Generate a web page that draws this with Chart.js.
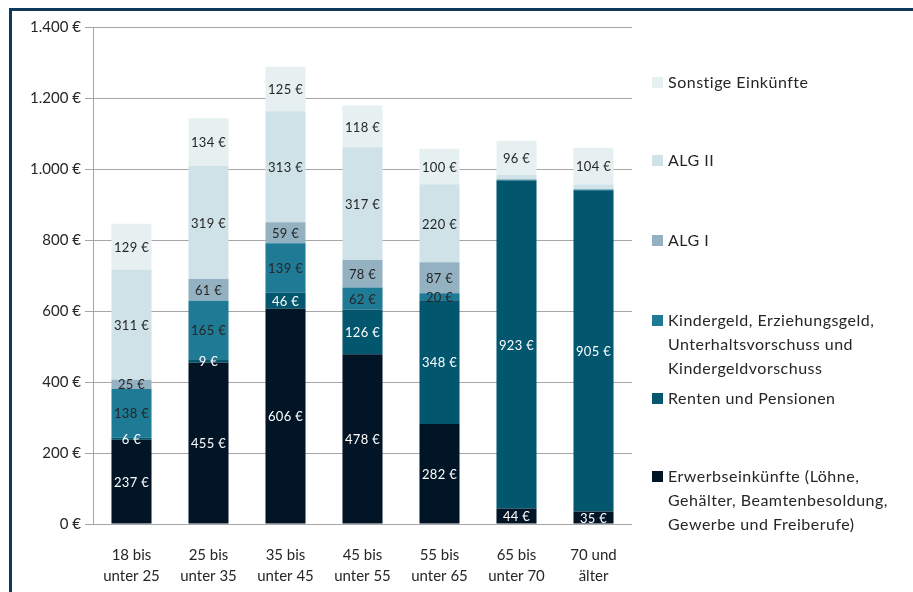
<!DOCTYPE html>
<html>
<head>
<meta charset="utf-8">
<script src="https://cdn.jsdelivr.net/npm/chart.js@4"></script>
<style>
  html, body { margin: 0; padding: 0; background: #fff; }
  #wrap { position: relative; width: 913px; height: 592px; overflow: hidden; }
  #frame { position: absolute; left: 9px; top: 8px; right: -10px; bottom: -10px;
           border-left: 3px solid #0d3a5c; border-top: 3px solid #0d3a5c; }
  canvas { position: absolute; left: 0; top: 0; }
  .leg { position: absolute; left: 652px; font-family: Lato, sans-serif; font-size: 16px;
         letter-spacing: 0.5px; color: #262626; line-height: 24px; }
  .leg i { position: absolute; left: 0; top: 7px; width: 11px; height: 11px; }
  .leg span { display: block; margin-left: 16px; white-space: nowrap; }
</style>
</head>
<body>
<div id="wrap">
  <div id="frame"></div>
  <canvas id="myChart" width="913" height="592"></canvas>
  <div id="legend"></div>
</div>
<script>
const ctx = document.getElementById('myChart');

const categories = [
    ['18 bis', 'unter 25'],
    ['25 bis', 'unter 35'],
    ['35 bis', 'unter 45'],
    ['45 bis', 'unter 55'],
    ['55 bis', 'unter 65'],
    ['65 bis', 'unter 70'],
    ['70 und', 'älter'],
];

// stacked from bottom to top
const erwerb      = [237, 455, 606, 478, 282, 44, 35];
const renten      = [6, 9, 46, 126, 348, 923, 905];
const kindergeld  = [138, 165, 139, 62, 20, 3, 2];
const algI        = [25, 61, 59, 78, 87, 1, 0];
const algII       = [311, 319, 313, 317, 220, 12, 14];
const sonstige    = [129, 134, 125, 118, 100, 96, 104];

const yTicks = [0, 200, 400, 600, 800, 1000, 1200, 1400];

const seriesNames = [
    ['Erwerbseinkünfte (Löhne,', 'Gehälter, Beamtenbesoldung,', 'Gewerbe und Freiberufe)'],
    ['Renten und Pensionen'],
    ['Kindergeld, Erziehungsgeld,', 'Unterhaltsvorschuss und', 'Kindergeldvorschuss'],
    ['ALG I'],
    ['ALG II'],
    ['Sonstige Einkünfte'],
];
const seriesColors = ['#021526', '#02566e', '#1f7a96', '#93b1c1', '#cfe2e7', '#e6f0f1'];
const labelColors  = ['#ffffff', '#ffffff', '#262626', '#262626', '#262626', '#262626'];
const legendTops   = [464, 386, 308, 228, 148, 70];

function euro(v) {
    return String(v).replace(/\B(?=(\d{3})+(?!\d))/g, '.') + ' €';
}

const allSeries = [erwerb, renten, kindergeld, algI, algII, sonstige];

const data = {
    labels: categories,
    datasets: allSeries.map((vals, i) => ({
        label: seriesNames[i].join(' '),
        data: vals,
        backgroundColor: seriesColors[i],
        borderWidth: 0,
    }))
};

// segment labels inside the bars
const barLabels = {
    id: 'barLabels',
    afterDatasetsDraw(chart) {
        const c = chart.ctx;
        c.save();
        c.font = '13px Lato, sans-serif';
        c.letterSpacing = '0.3px';
        c.textAlign = 'center';
        c.textBaseline = 'middle';
        chart.data.datasets.forEach((ds, di) => {
            const meta = chart.getDatasetMeta(di);
            meta.data.forEach((bar, i) => {
                const v = ds.data[i];
                // the tiny segments of the two oldest groups are not labelled
                if (i >= 5 && di >= 2 && di <= 4) return;
                const y = (bar.y + bar.base) / 2;
                c.fillStyle = labelColors[di];
                c.fillText(euro(v), bar.x, y + 1);
            });
        });
        c.restore();
    }
};

new Chart(ctx, {
    type: 'bar',
    data: data,
    plugins: [barLabels],
    options: {
        responsive: false,
        animation: false,
        layout: {
            padding: { top: 27, right: 281, bottom: 0, left: 0 }
        },
        plugins: {
            legend: { display: false },
            tooltip: { enabled: false },
        },
        datasets: {
            bar: { categoryPercentage: 1, barPercentage: 0.52 }
        },
        scales: {
            x: {
                stacked: true,
                grid: { display: false },
                border: { display: false },
                ticks: {
                    color: '#262626',
                    padding: 12,
                    font: { family: 'Lato', size: 15, lineHeight: 1.45 },
                    maxRotation: 0,
                },
                afterFit(scale) { scale.height = 68; },
            },
            y: {
                stacked: true,
                min: 0,
                max: 1400,
                afterBuildTicks(scale) {
                    scale.ticks = yTicks.map(v => ({ value: v }));
                },
                grid: {
                    color: '#a6a6a6',
                    lineWidth: 1,
                    tickLength: 8,
                },
                border: { display: true, color: '#a6a6a6' },
                ticks: {
                    color: '#262626',
                    padding: 4,
                    font: { family: 'Lato', size: 15 },
                    callback: function (value) {
                        return euro(value);
                    },
                },
                afterFit(scale) { scale.width = 93; },
            }
        }
    }
});

// legend on the right, top entry is the top of the stack
const legend = document.getElementById('legend');
seriesNames.forEach((lines, i) => {
    const d = document.createElement('div');
    d.className = 'leg';
    d.style.top = legendTops[i] + 'px';
    d.innerHTML = '<i style="background:' + seriesColors[i] + '"></i>' +
        lines.map(t => '<span>' + t + '</span>').join('');
    legend.appendChild(d);
});
</script>
</body>
</html>
